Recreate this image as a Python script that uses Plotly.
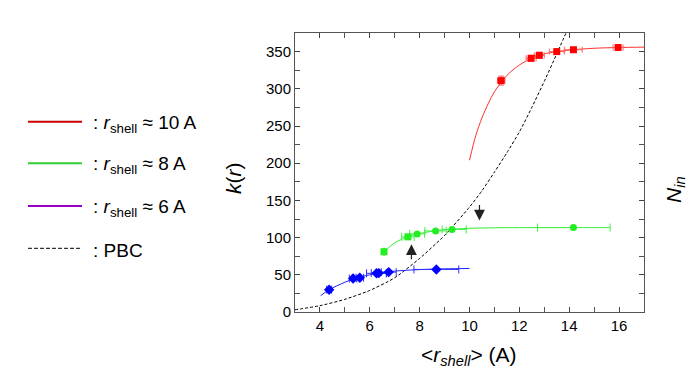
import plotly.graph_objects as go

# ---- data ----
red_x = [11.27, 12.47, 12.8, 13.5, 14.17, 15.96]
red_y = [311, 341, 345, 350, 352.5, 355.5]
red_ex = [0.15, 0.2, 0.2, 0.3, 0.35, 0.2]
red_ey = [6, 4, 4, 3, 3, 2]
red_fit_x = [10.0, 10.25, 10.5, 10.75, 11.0, 11.5, 12.0, 12.5, 13.0, 14.0, 15.0, 16.0, 17.0]
red_fit_y = [204, 237, 261, 280, 296, 318, 332, 341, 347, 352, 354.5, 355.5, 356]

green_x = [6.57, 7.53, 7.9, 8.64, 9.3, 14.17]
green_y = [81, 101, 105, 109, 111, 113.5]
green_ex_plus = [0.0, 0.25, 0.3, 0.43, 0.57, 1.47]
green_ex_minus = [0.0, 0.25, 0.3, 0.43, 0.4, 1.44]
green_symbols = ["square", "square", "circle", "circle", "circle", "circle"]
green_fit_x = [6.57, 7.0, 7.5, 8.0, 8.5, 9.0, 10.0, 11.0, 12.0, 14.17]
green_fit_y = [81, 93, 101, 105.5, 108.5, 110.5, 112.5, 113.2, 113.4, 113.5]

blue_x = [4.37, 5.33, 5.6, 6.27, 6.36, 6.76, 8.67]
blue_y = [30, 45, 46, 52, 52.3, 53.6, 57.2]
blue_ex = [0.1, 0.15, 0.15, 0.4, 0.3, 0.3, 0.9]
blue_fit_x = [4.03, 4.37, 5.0, 5.5, 6.0, 6.5, 7.0, 8.0, 9.0, 10.0]
blue_fit_y = [22, 30, 40, 46, 50, 53, 55, 57, 58, 58.5]

pbc_x = [3.0, 4.0, 5.0, 6.0, 7.0, 8.0, 9.0, 10.0, 10.5, 11.0, 11.5, 12.0, 12.5, 13.0, 13.5, 13.87]
pbc_y = [3, 8.5, 17, 29, 46, 72, 103, 141, 163, 188, 214, 242, 275, 310, 347, 375]

legend_labels = [": <i>r</i><sub>shell</sub> ≈ 10 A", ": <i>r</i><sub>shell</sub> ≈ 8 A",
                 ": <i>r</i><sub>shell</sub> ≈ 6 A", ": PBC"]
legend_colors = ["#cc0000", "#33cc33", "#9900cc", "black"]

FONT = "Arial, Liberation Sans, sans-serif"

fig = go.Figure()

# PBC
fig.add_trace(go.Scatter(x=pbc_x, y=pbc_y, mode="lines", line=dict(color="black", dash="3px,2px", width=1,
                         shape="spline", smoothing=0.6), showlegend=False))
# fits
fig.add_trace(go.Scatter(x=red_fit_x, y=red_fit_y, mode="lines", line=dict(color="#ff3030", width=1,
                         shape="spline", smoothing=0.8), showlegend=False))
fig.add_trace(go.Scatter(x=green_fit_x, y=green_fit_y, mode="lines", line=dict(color="#33ee33", width=1,
                         shape="spline", smoothing=0.8), showlegend=False))
fig.add_trace(go.Scatter(x=blue_fit_x, y=blue_fit_y, mode="lines", line=dict(color="#2020ff", width=1,
                         shape="spline", smoothing=0.8), showlegend=False))
# points
fig.add_trace(go.Scatter(x=red_x, y=red_y, mode="markers",
                         marker=dict(symbol="square", size=7, color="#ff0000"),
                         error_x=dict(type="data", array=red_ex, color="#ff6060", thickness=1, width=3),
                         error_y=dict(type="data", array=red_ey, color="#ff6060", thickness=1, width=3),
                         showlegend=False))
fig.add_trace(go.Scatter(x=green_x, y=green_y, mode="markers",
                         marker=dict(symbol=green_symbols, size=7, color="#22ee22"),
                         error_x=dict(type="data", array=green_ex_plus, arrayminus=green_ex_minus,
                                      color="#44ee44", thickness=1, width=4),
                         showlegend=False))
fig.add_trace(go.Scatter(x=blue_x, y=blue_y, mode="markers",
                         marker=dict(symbol="diamond", size=8, color="#0000ff"),
                         error_x=dict(type="data", array=blue_ex, color="#3030ff", thickness=1, width=4),
                         showlegend=False))

# arrows
fig.add_annotation(x=10.4, y=123, ax=10.4, ay=146, xref="x", yref="y", axref="x", ayref="y",
                   showarrow=True, arrowhead=2, arrowsize=1.8, arrowwidth=1.2, arrowcolor="#222222", text="")
fig.add_annotation(x=7.67, y=91, ax=7.67, ay=69, xref="x", yref="y", axref="x", ayref="y",
                   showarrow=True, arrowhead=2, arrowsize=1.8, arrowwidth=1.2, arrowcolor="#222222", text="")

# custom legend (screen-pixel positions converted to paper coords)
W, H, L, T = 349.0, 279.0, 295.0, 33.0
def px2paper(px, py):
    return (px - L) / W, (T + H - py) / H

leg_y = [121.7, 163.3, 206.0, 248.3]
for lab, col, ly in zip(legend_labels, legend_colors, leg_y):
    x0, yy = px2paper(28, ly)
    x1, _ = px2paper(82, ly)
    fig.add_shape(type="line", xref="paper", yref="paper", x0=x0, x1=x1, y0=yy, y1=yy,
                  line=dict(color=col, width=2 if col != "black" else 1,
                            dash="4px,2px" if col == "black" else "solid"))
    tx, ty = px2paper(91, ly + 2)
    fig.add_annotation(x=tx, y=ty, xref="paper", yref="paper", text=lab, showarrow=False,
                       xanchor="left", yanchor="middle", font=dict(family=FONT, size=19, color="black"))

# axis titles
ax_, ay_ = px2paper(233, 178)
fig.add_annotation(x=ax_, y=ay_, xref="paper", yref="paper", text="<i>k</i>(<i>r</i>)", textangle=-90,
                   xanchor="center", yanchor="middle",
                   showarrow=False, font=dict(family=FONT, size=21, color="black"))
bx, by = px2paper(469, 356)
fig.add_annotation(x=bx, y=by, xref="paper", yref="paper",
                   text="&lt;<i>r<sub>shell</sub></i>&gt; (A)", showarrow=False,
                   xanchor="center", yanchor="middle",
                   font=dict(family=FONT, size=21, color="black"))
nx, ny = px2paper(675, 190)
fig.add_annotation(x=nx, y=ny, xref="paper", yref="paper", text="<i>N<sub>in</sub></i>", textangle=-90,
                   xanchor="center", yanchor="middle",
                   showarrow=False, font=dict(family=FONT, size=21, color="black"))

fig.update_layout(
    width=700, height=387, margin=dict(l=287, r=64, t=25, b=83),
    plot_bgcolor="white", paper_bgcolor="white",
    font=dict(family=FONT, size=14, color="black"),
    xaxis=dict(range=[3, 17], dtick=2, tick0=0, ticks="inside", ticklen=5, mirror="allticks",
               showline=True, linecolor="#555555", linewidth=1, showgrid=False, zeroline=False,
               tickfont=dict(size=15),
               minor=dict(dtick=1, ticks="inside", ticklen=5, tickcolor="#555555")),
    yaxis=dict(range=[0, 375], dtick=50, ticks="inside", ticklen=5, mirror="allticks",
               showline=True, linecolor="#555555", linewidth=1, showgrid=False, zeroline=False,
               tickfont=dict(size=15),
               minor=dict(dtick=25, ticks="inside", ticklen=5, tickcolor="#555555")),
)

fig.write_html("out.html")
